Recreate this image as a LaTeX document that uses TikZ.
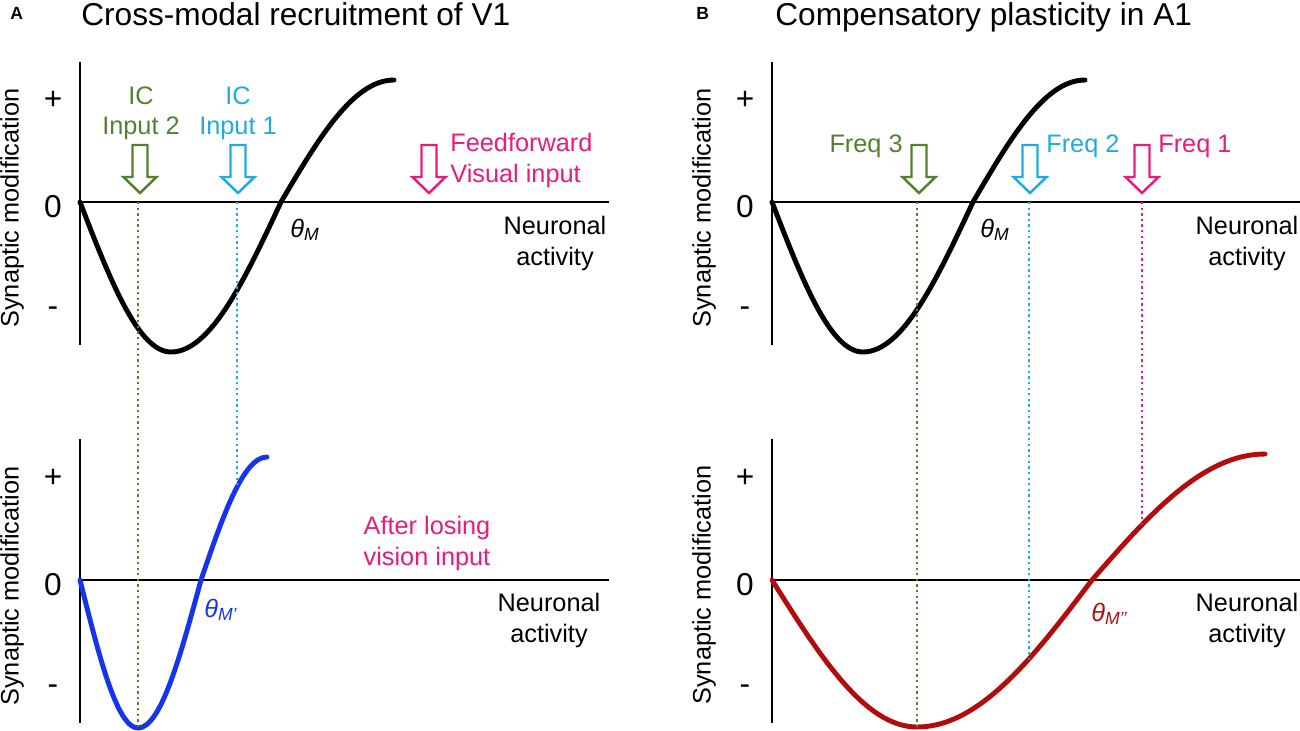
\documentclass[tikz,border=0pt]{standalone}
\usepackage{fontspec}
\setmainfont{Liberation Sans}
\definecolor{icgreen}{RGB}{84,128,48}
\definecolor{iccyan}{RGB}{32,170,225}
\definecolor{ffpink}{RGB}{232,28,122}
\definecolor{lossblue}{RGB}{22,52,238}
\definecolor{compred}{RGB}{178,12,12}
\tikzset{
  axis/.style={line width=1.4pt},
  bcm/.style={line width=2.8pt, line cap=round},
  guide/.style={line width=1.4pt, dash pattern=on 1.3pt off 1.9pt},
  hollow/.style={line width=1.4pt, fill=white, line join=miter},
  lbl/.style={inner sep=0pt, font=\fontsize{14.4}{17.3}\selectfont},
  tick/.style={inner sep=0pt, font=\fontsize{18}{21}\selectfont},
  ttl/.style={inner sep=0pt, font=\fontsize{18}{21.6}\selectfont},
  panel/.style={inner sep=0pt, font=\fontsize{10}{12}\selectfont\bfseries}
}
\newcommand{\hollowdown}[2]{\draw[hollow,draw=#2] (#1) -- ++(-16.5,-16) -- ++(9,0) -- ++(0,-32) -- ++(15,0) -- ++(0,32) -- ++(9,0) -- cycle;}
\begin{document}
\begin{tikzpicture}[x=0.2mm, y=-0.2mm]
\useasboundingbox (0,0) rectangle (1300,731);

% panel A
\node[panel, anchor=base west] (tagA) at (10,19) {A};
\node[ttl, anchor=base west] (titleA) at (81,25) {Cross-modal recruitment of V1};

\draw[axis] (80,62) -- (80,345);
\draw[axis] (80,202) -- (609,202);
\draw[axis] (80,439) -- (80,723);
\draw[axis] (80,580) -- (609,580);

\node[lbl, rotate=90] (ylabA1) at (12,208) {Synaptic modification};
\node[lbl, rotate=90] (ylabA2) at (12,586) {Synaptic modification};
\node[tick] (plusA1) at (53,100) {+};
\node[tick] (zeroA1) at (53,207) {0};
\node[tick] (minusA1) at (53,312) {-};
\node[tick] (plusA2) at (53,478) {+};
\node[tick] (zeroA2) at (53,585) {0};
\node[tick] (minusA2) at (53,690) {-};

\coordinate (a0) at (80,202);
\coordinate (amin) at (171,352);
\coordinate (azero) at (281,202);
\coordinate (amax) at (394,80);
\draw[bcm] (a0) sin (amin) cos (azero) sin (amax);

\coordinate (v0) at (80,580);
\coordinate (vmin) at (138,728);
\coordinate (vzero) at (201,580);
\coordinate (vmax) at (267,457);
\draw[bcm, lossblue] (v0) sin (vmin) cos (vzero) sin (vmax);

\coordinate (ic2) at (140,193);
\coordinate (ic1) at (238,193);
\coordinate (ffw) at (429,193);
\hollowdown{ic2}{icgreen}
\hollowdown{ic1}{iccyan}
\hollowdown{ffw}{ffpink}
\node[lbl, icgreen, align=center, anchor=north] (ic2lab) at (141,86) {IC\\Input 2};
\node[lbl, iccyan, align=center, anchor=north] (ic1lab) at (238,86) {IC\\Input 1};
\node[lbl, ffpink, align=left, anchor=north west] (ffwlab) at (450,133) {Feedforward\\Visual input};

\coordinate (ic2top) at (138,202);
\coordinate (ic1top) at (237,202);
\coordinate (ic1end) at (237,485);
\draw[guide, icgreen] (ic2top) -- (vmin);
\draw[guide, iccyan] (ic1top) -- (ic1end);

\node[lbl, anchor=base west] (thA) at (290,237) {\itshape θ\textsubscript{M}};
\node[lbl, lossblue, anchor=base west] (thA2) at (204,617) {\itshape θ\textsubscript{M’}};
\node[lbl, ffpink, align=center, anchor=north] (lossA) at (427,516) {After losing\\vision input};
\node[lbl, align=center, anchor=north] (xlabA1) at (555,216) {Neuronal\\activity};
\node[lbl, align=center, anchor=north] (xlabA2) at (549,593) {Neuronal\\activity};

% panel B
\node[panel, anchor=base west] (tagB) at (696,19) {B};
\node[ttl, anchor=base west] (titleB) at (775,25) {Compensatory plasticity in A1};

\draw[axis] (772,62) -- (772,345);
\draw[axis] (772,202) -- (1300,202);
\draw[axis] (772,439) -- (772,723);
\draw[axis] (772,580) -- (1300,580);

\node[lbl, rotate=90] (ylabB1) at (704,208) {Synaptic modification};
\node[lbl, rotate=90] (ylabB2) at (704,585) {Synaptic modification};
\node[tick] (plusB1) at (745,100) {+};
\node[tick] (zeroB1) at (745,207) {0};
\node[tick] (minusB1) at (745,312) {-};
\node[tick] (plusB2) at (745,478) {+};
\node[tick] (zeroB2) at (745,585) {0};
\node[tick] (minusB2) at (745,690) {-};

\coordinate (b0) at (772,202);
\coordinate (bmin) at (863,352);
\coordinate (bzero) at (973,202);
\coordinate (bmax) at (1085,80);
\draw[bcm] (b0) sin (bmin) cos (bzero) sin (bmax);

\coordinate (r0) at (772,580);
\coordinate (rmin) at (917,727);
\coordinate (rzero) at (1092,580);
\coordinate (rmax) at (1265,454);
\draw[bcm, compred] (r0) sin (rmin) cos (rzero) sin (rmax);

\coordinate (fq3) at (919,193);
\coordinate (fq2) at (1030,193);
\coordinate (fq1) at (1142,193);
\hollowdown{fq3}{icgreen}
\hollowdown{fq2}{iccyan}
\hollowdown{fq1}{ffpink}
\node[lbl, icgreen, anchor=base east] (fq3lab) at (903,152) {Freq 3};
\node[lbl, iccyan, anchor=base west] (fq2lab) at (1046,152) {Freq 2};
\node[lbl, ffpink, anchor=base west] (fq1lab) at (1158,152) {Freq 1};

\coordinate (fq3top) at (917,202);
\coordinate (fq2top) at (1029,202);
\coordinate (fq1top) at (1142,202);
\coordinate (fq2end) at (1029,659);
\coordinate (fq1end) at (1142,525);
\draw[guide, icgreen] (fq3top) -- (rmin);
\draw[guide, iccyan] (fq2top) -- (fq2end);
\draw[guide, ffpink] (fq1top) -- (fq1end);

\node[lbl, anchor=base west] (thB) at (980,237) {\itshape θ\textsubscript{M}};
\node[lbl, compred, anchor=base west] (thB2) at (1091,621) {\itshape θ\textsubscript{M’’}};
\node[lbl, align=center, anchor=north] (xlabB1) at (1247,216) {Neuronal\\activity};
\node[lbl, align=center, anchor=north] (xlabB2) at (1247,593) {Neuronal\\activity};

\end{tikzpicture}
\end{document}
